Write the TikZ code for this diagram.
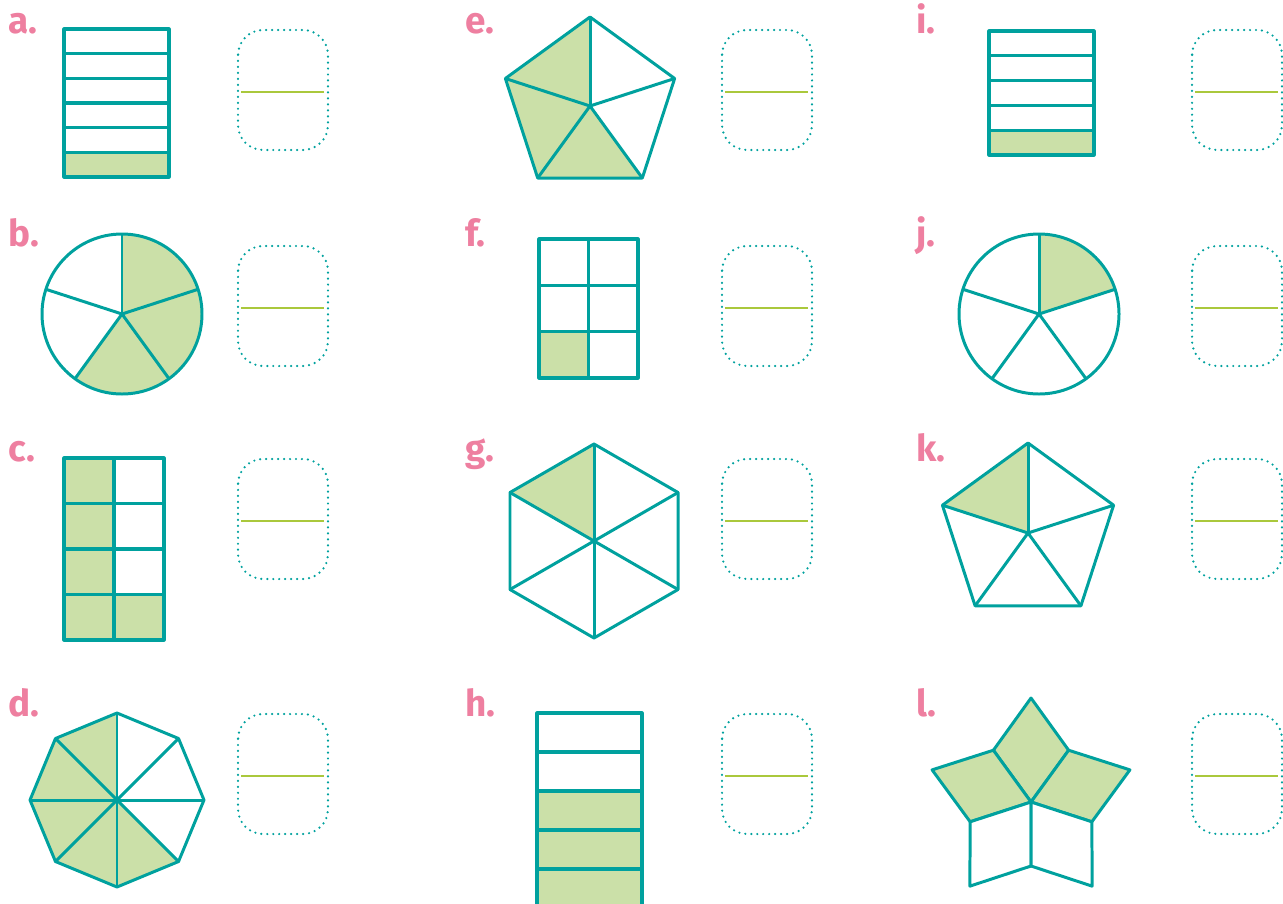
\documentclass[tikz,border=0pt]{standalone}
\usepackage{fontspec}
\setmainfont{Fira Sans}
\definecolor{tealline}{RGB}{0,161,158}
\definecolor{partfill}{RGB}{203,224,168}
\definecolor{labelpink}{RGB}{238,127,160}
\definecolor{barline}{RGB}{170,200,60}
\tikzset{
    shapeline/.style={draw=tealline, line width=1.7pt, line join=round},
    stripline/.style={shapeline, line width=1.8pt},
    part/.style={fill=partfill},
    answer/.style={draw=tealline, line width=1.4pt, line cap=round, dash pattern=on 0pt off 3.4pt, rounded corners=0.5cm},
    bar/.style={draw=barline, line width=1pt},
    letter/.style={anchor=base west, text=labelpink, font=\fontsize{21}{24}\selectfont\bfseries, inner sep=0pt}
}
\begin{document}
\begin{tikzpicture}[x=0.02cm, y=-0.02cm]
    \useasboundingbox (0,0) rectangle (1283,903);

    % Labels
    \foreach \name/\x/\y in {a/8/33, b/8/246, c/8/461, d/8/716,
                             e/465/33, f/465/246, g/465/461, h/465/716,
                             i/916/33, j/916/246, k/916/461, l/916/716} {
        \node[letter] (lab-\name) at (\x,\y) {\name.};
    }

    % Answer boxes
    \foreach \x in {238, 722, 1192} {
        \foreach \y in {30, 246, 459, 714} {
            \draw[answer] (\x,\y) rectangle ++(90,120);
            \draw[bar] (\x+3,\y+62) -- ++(83,0);
        }
    }

    % a. strips
    \fill[part] (64,152.3) rectangle (169,177);
    \foreach \i in {1,...,5} {
        \draw[stripline] (64,29+\i*24.67) -- (169,29+\i*24.67);
    }
    \draw[stripline] (64,29) rectangle (169,177);

    % b. circle
    \begin{scope}[shift={(122,314)}]
        \fill[part] (0,0) -- (-90:80) arc[start angle=-90, end angle=126, radius=80] -- cycle;
        \foreach \a in {-90,-18,54,126,198} {
            \draw[shapeline] (0,0) -- (\a:80);
        }
        \draw[shapeline] (0,0) circle (80);
    \end{scope}

    % c. grid
    \fill[part] (64,458) rectangle (114,640);
    \fill[part] (114,594.5) rectangle (164,640);
    \draw[stripline] (114,458) -- (114,640);
    \foreach \y in {503.5, 549, 594.5} {
        \draw[stripline] (64,\y) -- (164,\y);
    }
    \draw[stripline] (64,458) rectangle (164,640);

    % d. octagon
    \begin{scope}[shift={(117,800)}]
        \fill[part] (0,0) -- (-90:87) -- (-135:87) -- (180:87) -- (135:87) -- (90:87) -- (45:87) -- cycle;
        \foreach \a in {0,45,...,315} {
            \draw[shapeline] (0,0) -- (\a:87);
        }
        \draw[shapeline] (0:87) \foreach \a in {45,90,...,315} {-- (\a:87)} -- cycle;
    \end{scope}

    % e. pentagon
    \begin{scope}[shift={(590,106)}]
        \fill[part] (0,0) -- (-90:89) -- (-162:89) -- (126:89) -- (54:89) -- cycle;
        \foreach \a in {-90,-18,54,126,198} {
            \draw[shapeline] (0,0) -- (\a:89);
        }
        \draw[shapeline] (-90:89) \foreach \a in {-18,54,126,198} {-- (\a:89)} -- cycle;
    \end{scope}

    % f. grid
    \fill[part] (539,331.7) rectangle (588.5,378);
    \draw[stripline] (588.5,239) -- (588.5,378);
    \foreach \y in {285.3, 331.7} {
        \draw[stripline] (539,\y) -- (638,\y);
    }
    \draw[stripline] (539,239) rectangle (638,378);

    % g. hexagon
    \begin{scope}[shift={(594,541)}]
        \fill[part] (0,0) -- (-90:97) -- (-150:97) -- cycle;
        \foreach \a in {-90,-30,...,210} {
            \draw[shapeline] (0,0) -- (\a:97);
        }
        \draw[shapeline] (-90:97) \foreach \a in {-30,30,...,210} {-- (\a:97)} -- cycle;
    \end{scope}

    % h. strips (runs off the page)
    \fill[part] (537,791) rectangle (642,910);
    \foreach \y in {752, 791, 830, 869} {
        \draw[stripline] (537,\y) -- (642,\y);
    }
    \draw[stripline] (537,910) -- (537,713) -- (642,713) -- (642,910);

    % i. strips
    \fill[part] (989,130.2) rectangle (1094,155);
    \foreach \i in {1,...,4} {
        \draw[stripline] (989,31+\i*24.8) -- (1094,31+\i*24.8);
    }
    \draw[stripline] (989,31) rectangle (1094,155);

    % j. circle
    \begin{scope}[shift={(1039,314)}]
        \fill[part] (0,0) -- (-90:80) arc[start angle=-90, end angle=-18, radius=80] -- cycle;
        \foreach \a in {-90,-18,54,126,198} {
            \draw[shapeline] (0,0) -- (\a:80);
        }
        \draw[shapeline] (0,0) circle (80);
    \end{scope}

    % k. pentagon
    \begin{scope}[shift={(1028,533)}]
        \fill[part] (0,0) -- (-90:90) -- (-162:90) -- cycle;
        \foreach \a in {-90,-18,54,126,198} {
            \draw[shapeline] (0,0) -- (\a:90);
        }
        \draw[shapeline] (-90:90) \foreach \a in {-18,54,126,198} {-- (\a:90)} -- cycle;
    \end{scope}

    % l. star of rhombi
    \begin{scope}[shift={(1031,802)}]
        \foreach \a/\col in {-90/partfill, -162/partfill, -18/partfill, 126/white, 54/white} {
            \path[shapeline, fill=\col] (0,0) -- (\a+36:64) -- (\a:104) -- (\a-36:64) -- cycle;
        }
    \end{scope}
\end{tikzpicture}
\end{document}
